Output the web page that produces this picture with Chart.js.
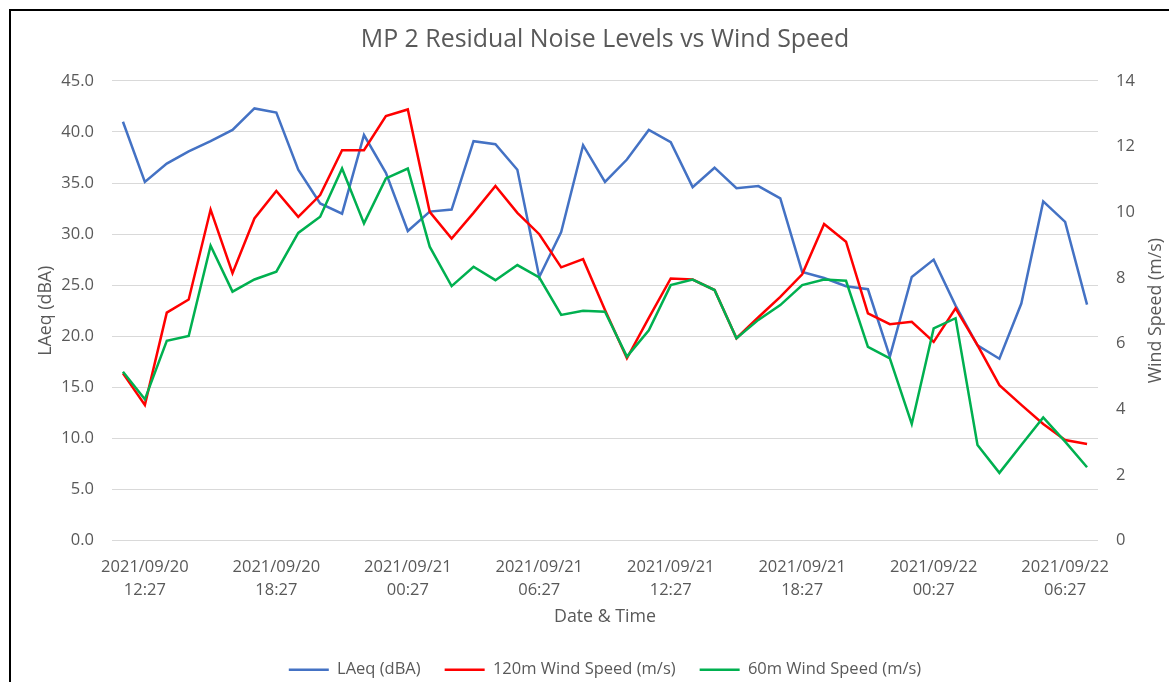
<!DOCTYPE html>
<html lang="en">
<head>
    <meta charset="UTF-8">
    <title>MP 2 Residual Noise Levels vs Wind Speed</title>
    <script src="https://cdn.jsdelivr.net/npm/chart.js"></script>
    <style>
        html, body {
            margin: 0;
            padding: 0;
            background: #ffffff;
            overflow: hidden;
        }

        .frame {
            position: absolute;
            left: 9px;
            top: 9px;
            width: 1300px;
            height: 800px;
            border-left: 2.5px solid #000;
            border-top: 2.5px solid #000;
        }

        .chart-box {
            position: absolute;
            left: 0;
            top: 0;
            width: 1169px;
            height: 682px;
        }
    </style>
</head>
<body>
    <div class="frame"></div>
    <div class="chart-box">
        <canvas id="noiseChart" width="1169" height="682"></canvas>
    </div>

    <script>
        // hourly readings, 2021/09/20 11:27 -> 2021/09/22 07:27
        const timeLabels = [
            '2021/09/20 11:27', '2021/09/20 12:27', '2021/09/20 13:27', '2021/09/20 14:27',
            '2021/09/20 15:27', '2021/09/20 16:27', '2021/09/20 17:27', '2021/09/20 18:27',
            '2021/09/20 19:27', '2021/09/20 20:27', '2021/09/20 21:27', '2021/09/20 22:27',
            '2021/09/20 23:27', '2021/09/21 00:27', '2021/09/21 01:27', '2021/09/21 02:27',
            '2021/09/21 03:27', '2021/09/21 04:27', '2021/09/21 05:27', '2021/09/21 06:27',
            '2021/09/21 07:27', '2021/09/21 08:27', '2021/09/21 09:27', '2021/09/21 10:27',
            '2021/09/21 11:27', '2021/09/21 12:27', '2021/09/21 13:27', '2021/09/21 14:27',
            '2021/09/21 15:27', '2021/09/21 16:27', '2021/09/21 17:27', '2021/09/21 18:27',
            '2021/09/21 19:27', '2021/09/21 20:27', '2021/09/21 21:27', '2021/09/21 22:27',
            '2021/09/21 23:27', '2021/09/22 00:27', '2021/09/22 01:27', '2021/09/22 02:27',
            '2021/09/22 03:27', '2021/09/22 04:27', '2021/09/22 05:27', '2021/09/22 06:27',
            '2021/09/22 07:27'
        ];

        const laeq = [
            41.0, 35.1, 36.9, 38.1, 39.1, 40.2, 42.3, 41.9, 36.3, 33.0,
            32.0, 39.7, 36.0, 30.3, 32.2, 32.4, 39.1, 38.8, 36.3, 25.8,
            30.2, 38.7, 35.1, 37.3, 40.2, 39.0, 34.6, 36.5, 34.5, 34.7,
            33.5, 26.3, 25.7, 24.9, 24.6, 18.0, 25.8, 27.5, 23.0, 19.1,
            17.8, 23.2, 33.2, 31.2, 23.1
        ];

        const wind120 = [
            5.09, 4.13, 6.94, 7.34, 10.08, 8.14, 9.81, 10.65, 9.86, 10.52,
            11.89, 11.89, 12.93, 13.13, 10.01, 9.20, 9.98, 10.80, 9.98, 9.33,
            8.32, 8.57, 7.02, 5.55, 6.78, 7.98, 7.95, 7.63, 6.16, 6.80,
            7.42, 8.11, 9.64, 9.10, 6.92, 6.59, 6.66, 6.05, 7.07, 5.95,
            4.73, 4.13, 3.55, 3.06, 2.94
        ];

        const wind60 = [
            5.14, 4.30, 6.08, 6.23, 8.98, 7.58, 7.95, 8.19, 9.37, 9.86,
            11.33, 9.66, 11.03, 11.33, 8.95, 7.75, 8.34, 7.93, 8.39, 8.01,
            6.87, 7.00, 6.97, 5.60, 6.40, 7.78, 7.95, 7.63, 6.16, 6.72,
            7.17, 7.78, 7.95, 7.91, 5.90, 5.55, 3.55, 6.46, 6.77, 2.91,
            2.06, 2.91, 3.75, 3.01, 2.23
        ];

        const FONT = '"Open Sans", sans-serif';
        const TEXT = '#595959';
        const GRID = '#d9d9d9';

        // Chart.js puts a right-hand title reading downwards; Excel reads it upwards
        const rightTitle = {
            id: 'rightTitle',
            afterDraw(chart) {
                const { ctx, chartArea } = chart;
                const axis = chart.scales.y1;
                ctx.save();
                ctx.translate(axis.right - 13, (chartArea.top + chartArea.bottom) / 2);
                ctx.rotate(-Math.PI / 2);
                ctx.font = '17.8px ' + FONT;
                ctx.fillStyle = TEXT;
                ctx.textAlign = 'center';
                ctx.textBaseline = 'middle';
                ctx.fillText('Wind Speed (m/s)', 0, 0);
                ctx.restore();
            }
        };

        function drawChart() {
            const ctx = document.getElementById('noiseChart').getContext('2d');

            new Chart(ctx, {
                type: 'line',
                data: {
                    labels: timeLabels,
                    datasets: [
                        {
                            label: 'LAeq (dBA)',
                            data: laeq,
                            yAxisID: 'y',
                            borderColor: '#4472c4',
                            backgroundColor: '#4472c4',
                            borderWidth: 2.5,
                            order: 3
                        },
                        {
                            label: '120m Wind Speed (m/s)',
                            data: wind120,
                            yAxisID: 'y1',
                            borderColor: '#ff0000',
                            backgroundColor: '#ff0000',
                            borderWidth: 2.5,
                            order: 2
                        },
                        {
                            label: '60m Wind Speed (m/s)',
                            data: wind60,
                            yAxisID: 'y1',
                            borderColor: '#00b050',
                            backgroundColor: '#00b050',
                            borderWidth: 2.5,
                            order: 1
                        }
                    ]
                },
                options: {
                    responsive: false,
                    animation: false,
                    layout: { padding: { left: 0, right: 0, top: 0, bottom: -6 } },
                    elements: {
                        line: { tension: 0, fill: false },
                        point: { radius: 0 }
                    },
                    plugins: {
                        tooltip: { enabled: false },
                        title: {
                            display: true,
                            fullSize: false,
                            text: 'MP 2 Residual Noise Levels vs Wind Speed',
                            color: TEXT,
                            font: { family: FONT, size: 24.9, weight: 'normal' },
                            padding: { top: 25, bottom: 26 }
                        },
                        legend: {
                            position: 'bottom',
                            fullSize: false,
                            labels: {
                                color: TEXT,
                                font: { family: FONT, size: 16.5 },
                                usePointStyle: true,
                                pointStyle: 'line',
                                pointStyleWidth: 40,
                                padding: 24,
                                sort: (a, b) => a.datasetIndex - b.datasetIndex
                            }
                        }
                    },
                    scales: {
                        x: {
                            type: 'category',
                            offset: true,
                            grid: { display: false, drawTicks: false },
                            border: { display: false },
                            afterFit: (scale) => { scale.height = 97; },
                            ticks: {
                                autoSkip: false,
                                maxRotation: 0,
                                minRotation: 0,
                                padding: 15,
                                color: TEXT,
                                font: { family: FONT, size: 16.5, lineHeight: 1.39 },
                                callback: function (value, index) {
                                    if (index % 6 !== 1) return '';
                                    return this.getLabelForValue(value).split(' ');
                                }
                            },
                            title: {
                                display: true,
                                text: 'Date & Time',
                                color: TEXT,
                                font: { family: FONT, size: 17.8 },
                                padding: { top: 0, bottom: 10 }
                            }
                        },
                        y: {
                            position: 'left',
                            min: 0,
                            max: 45,
                            afterFit: (scale) => { scale.width = 112; },
                            grid: { color: GRID, lineWidth: 1, drawTicks: false },
                            border: { display: false },
                            ticks: {
                                stepSize: 5,
                                padding: 18,
                                color: TEXT,
                                font: { family: FONT, size: 16.5 },
                                callback: (v) => v.toFixed(1)
                            },
                            title: {
                                display: true,
                                text: 'LAeq (dBA)',
                                color: TEXT,
                                font: { family: FONT, size: 17.8 },
                                padding: { top: 35, bottom: 0 }
                            }
                        },
                        y1: {
                            position: 'right',
                            min: 0,
                            max: 14,
                            afterFit: (scale) => { scale.width = 71; },
                            grid: { display: false, drawTicks: false },
                            border: { display: false },
                            ticks: {
                                stepSize: 2,
                                padding: 18,
                                color: TEXT,
                                font: { family: FONT, size: 16.5 }
                            }
                        }
                    }
                },
                plugins: [rightTitle]
            });
        }

        document.fonts.load('16px "Open Sans"').then(drawChart, drawChart);
    </script>
</body>
</html>
